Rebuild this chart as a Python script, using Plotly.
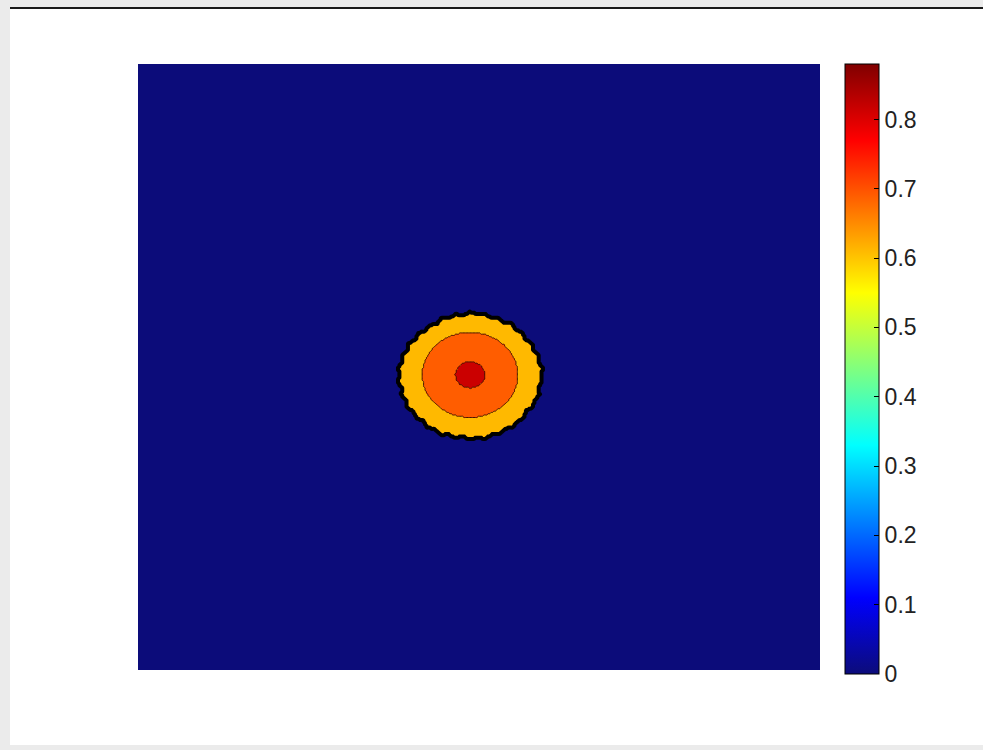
import numpy as np
import plotly.graph_objects as go

# Square simulation domain, sampled on a regular grid
grid_n = 480
domain = [0.0, 100.0]
center = [48.7, 48.7]

# Field value of each concentric zone, from the outside in
zone_levels = [0.0, 0.61, 0.69, 0.815]

# Radius of the outer (ragged) front, sampled every 6 degrees counter-clockwise from +x
outer_radius = [10.4, 10.7, 10.2, 10.6, 10.1, 10.5, 9.9, 10.4, 10.0, 10.5, 9.9, 10.3,
                9.9, 10.3, 10.0, 10.4, 9.8, 10.2, 9.8, 10.3, 9.7, 10.1, 9.8, 10.3,
                9.9, 10.4, 10.0, 10.5, 10.2, 10.6, 10.3, 10.7, 10.2, 10.6, 10.3, 10.7,
                10.3, 10.6, 10.2, 10.7, 10.4, 10.8, 10.3, 10.6, 10.2, 10.7, 10.4, 10.8,
                10.3, 10.6, 10.2, 10.7, 10.3, 10.6, 10.1, 10.6, 10.3, 10.7, 10.2, 10.6]
middle_radius = 7.0
core_radius = 2.15

# Colour bar
cbar_range = [0.0, 0.88]
cbar_ticks = [0.0, 0.1, 0.2, 0.3, 0.4, 0.5, 0.6, 0.7, 0.8]
cbar_labels = ["0", "0.1", "0.2", "0.3", "0.4", "0.5", "0.6", "0.7", "0.8"]

# ---- build the zoned field ----
step = (domain[1] - domain[0]) / grid_n
xs = domain[0] + (np.arange(grid_n) + 0.5) * step
ys = domain[0] + (np.arange(grid_n) + 0.5) * step
X, Y = np.meshgrid(xs, ys)
dx, dy = X - center[0], Y - center[1]
r = np.hypot(dx, dy)
theta = np.degrees(np.arctan2(dy, dx)) % 360.0
ang = np.arange(len(outer_radius)) * 360.0 / len(outer_radius)
r_front = np.interp(theta, np.append(ang, 360.0), np.append(outer_radius, outer_radius[0]))

z = np.full_like(r, zone_levels[0])
z[r <= r_front] = zone_levels[1]
z[r <= middle_radius] = zone_levels[2]
z[r <= core_radius] = zone_levels[3]
z = np.round(z, 3)

jet = [[0.0, "rgb(12,12,122)"], [0.125, "rgb(0,0,255)"], [0.375, "rgb(0,255,255)"],
       [0.625, "rgb(255,255,0)"], [0.875, "rgb(255,0,0)"], [1.0, "rgb(128,0,0)"]]

# figure geometry in pixels
W, H = 983, 750
L, R, T, B = 138, 163, 64, 80
pw, ph = W - L - R, H - T - B


def px_x(p):
    return (p - L) / pw


def px_y(p):
    return (H - B - p) / ph


fig = go.Figure()

fig.add_trace(go.Heatmap(
    x=xs, y=ys, z=z, zmin=cbar_range[0], zmax=cbar_range[1],
    colorscale=jet, zsmooth=False, hoverinfo="skip",
    colorbar=dict(
        x=px_x(845), xanchor="left", y=1.0, yanchor="top",
        len=610, lenmode="pixels", thickness=34, thicknessmode="pixels",
        xpad=0, ypad=0, outlinewidth=1, outlinecolor="black",
        ticks="inside", ticklen=5, tickcolor="black", tickwidth=1,
        tickvals=cbar_ticks, ticktext=cbar_labels,
        tickfont=dict(family="Liberation Sans, Arial, sans-serif", size=23, color="#222222"),
    ),
))

# ragged outer front, drawn as a heavy black contour
fig.add_trace(go.Contour(
    x=xs, y=ys, z=z, autocontour=False,
    contours=dict(start=0.3, end=0.3, size=1.0, coloring="none"),
    line=dict(color="black", width=4, smoothing=0.4),
    showscale=False, hoverinfo="skip",
))

# inner zone boundaries
fig.add_trace(go.Contour(
    x=xs, y=ys, z=z, autocontour=False,
    contours=dict(start=0.65, end=0.75, size=0.1, coloring="none"),
    line=dict(color="rgb(70,20,0)", width=1, smoothing=1.0),
    showscale=False, hoverinfo="skip",
))

fig.update_xaxes(range=domain, visible=False, showgrid=False, zeroline=False)
fig.update_yaxes(range=domain, visible=False, showgrid=False, zeroline=False)

fig.update_layout(
    width=W, height=H,
    margin=dict(l=L, r=R, t=T, b=B, pad=0),
    paper_bgcolor="#ebebeb",
    plot_bgcolor="rgb(12,12,122)",
    showlegend=False,
    shapes=[
        # white figure panel
        dict(type="rect", xref="paper", yref="paper", layer="below",
             x0=px_x(10), x1=px_x(990), y0=px_y(745), y1=px_y(8),
             fillcolor="white", line=dict(width=0)),
        # dark rule along the top of the panel
        dict(type="line", xref="paper", yref="paper", layer="above",
             x0=px_x(10), x1=px_x(990), y0=px_y(8), y1=px_y(8),
             line=dict(color="#1a1a1a", width=2)),
    ],
)

fig.write_html("out.html")
